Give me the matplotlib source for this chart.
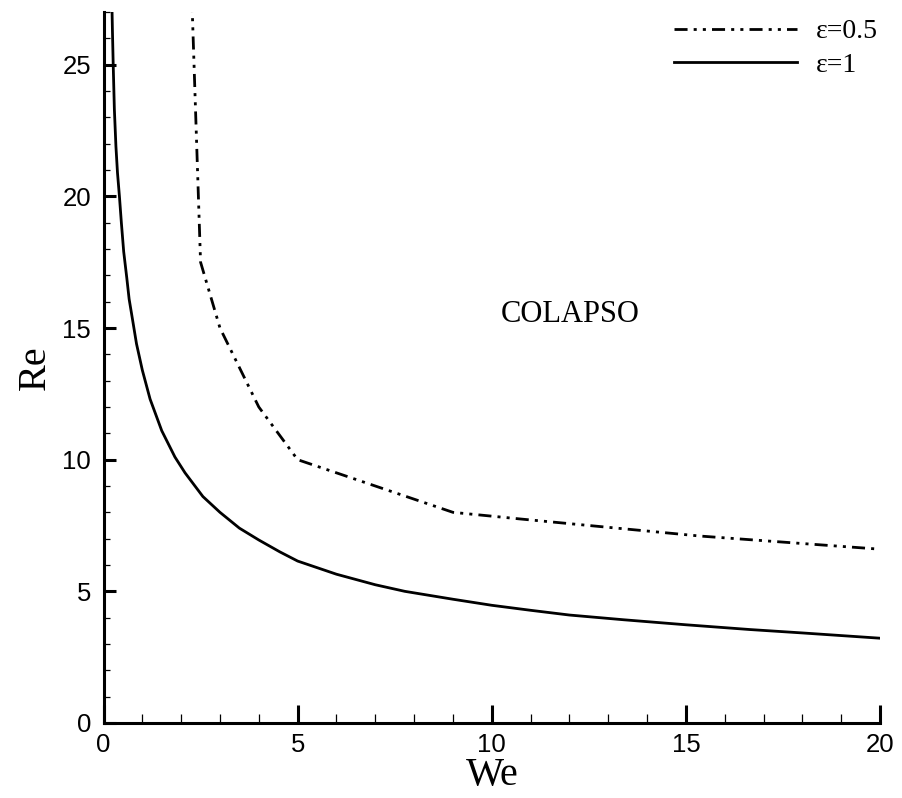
import matplotlib
matplotlib.use('Agg')
import matplotlib.pyplot as plt
from matplotlib.ticker import MultipleLocator

# Data
we_eps1 = [0.20, 0.23, 0.25, 0.28, 0.32, 0.36, 0.41, 0.46, 0.52, 0.60, 0.66, 0.75,
           0.85, 1.00, 1.20, 1.35, 1.50, 1.84, 2.10, 2.56, 3.00, 3.50, 4.00,
           4.54, 5.00, 6.00, 7.00, 7.76, 9.00, 10.0, 11.0, 12.0, 13.4, 15.0,
           16.64, 18.0, 20.0]
re_eps1 = [28.5, 26.3, 25.0, 23.3, 21.9, 20.9, 20.0, 19.0, 17.9, 16.9, 16.1, 15.3,
           14.4, 13.4, 12.3, 11.7, 11.1, 10.1, 9.5, 8.6, 8.0, 7.4, 6.95,
           6.5, 6.15, 5.65, 5.25, 5.0, 4.7, 4.47, 4.28, 4.1, 3.92, 3.73,
           3.55, 3.42, 3.22]

we_eps05 = [2.22, 2.50, 3.0, 4.0, 5.0, 9.0, 10.72, 15.36, 20.0]
re_eps05 = [30.0, 17.5, 15.0, 12.0, 10.0, 8.0, 7.75, 7.10, 6.60]

labels = ['ε=0.5', 'ε=1']
region_label = 'COLAPSO'

fig = plt.figure(figsize=(9.02, 7.98), dpi=100)
ax = fig.add_axes([103.5/902, 1-723/798, (880-103.5)/902, (723-12)/798])

ax.plot(we_eps05, re_eps05, color='black', lw=2.0,
        linestyle=(0, (4.7, 2.2, 1.1, 2.2, 1.1, 2.2)), label=labels[0])
ax.plot(we_eps1, re_eps1, color='black', lw=2.0, linestyle='-', label=labels[1])

ax.set_xlim(0, 20)
ax.set_ylim(0, 27)

for s in ['top', 'right']:
    ax.spines[s].set_visible(False)
for s in ['left', 'bottom']:
    ax.spines[s].set_linewidth(2.2)

ax.xaxis.set_major_locator(MultipleLocator(5))
ax.xaxis.set_minor_locator(MultipleLocator(1))
ax.yaxis.set_major_locator(MultipleLocator(5))
ax.yaxis.set_minor_locator(MultipleLocator(1))

tick_font = 'Liberation Sans'
ax.tick_params(axis='x', which='major', direction='in', length=13, width=2.2, pad=7,
               labelsize=18.5)
ax.tick_params(axis='x', which='minor', direction='in', length=6.5, width=0.9)
ax.tick_params(axis='y', which='major', direction='in', length=8.6, width=2.2, pad=9,
               labelsize=18.5)
ax.tick_params(axis='y', which='minor', direction='in', length=4.3, width=0.9)
ax.tick_params(top=False, right=False, which='both')
for lab in ax.get_xticklabels() + ax.get_yticklabels():
    lab.set_fontfamily(tick_font)

ax.set_xlabel('We', fontsize=29, fontfamily='Liberation Serif', labelpad=0)
ax.set_ylabel('Re', fontsize=29, fontfamily='Liberation Serif', labelpad=6)

ax.text(0.601, 0.575, region_label, transform=ax.transAxes, fontsize=22,
        fontfamily='Liberation Serif', ha='center', va='center')

leg = ax.legend(loc='upper right', bbox_to_anchor=(878/902, 1-19/798),
                bbox_transform=fig.transFigure, frameon=False,
                prop={'family': 'Liberation Serif', 'size': 20},
                handlelength=4.4, handletextpad=0.7, labelspacing=0.3,
                borderaxespad=0, borderpad=0)

fig.savefig('out.png', dpi=100)
